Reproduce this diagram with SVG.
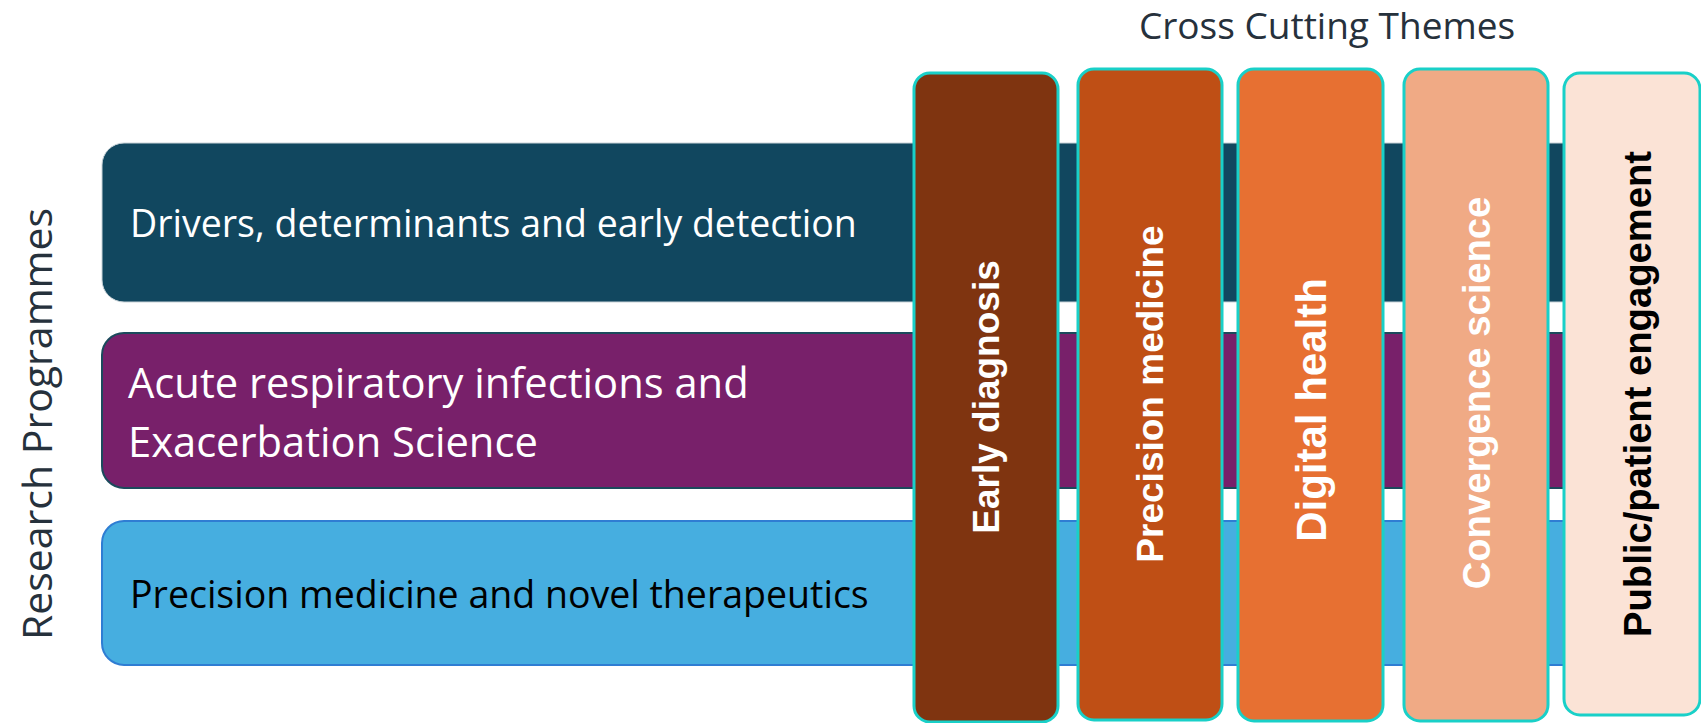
<svg xmlns="http://www.w3.org/2000/svg" width="1701" height="723" viewBox="0 0 1701 723">
<style>
.prog{font-family:"Open Sans","Noto Sans","Liberation Sans",sans-serif;font-size:37.5px}
.theme{stroke:#19d0c8;stroke-width:3}
.tt{font-family:"Liberation Sans",Arial,sans-serif;font-weight:bold;font-size:37px;text-anchor:middle}
.hdr{font-family:"Open Sans","Noto Sans","Liberation Sans",sans-serif;fill:#26313c}
</style>
<rect width="1701" height="723" fill="#ffffff"/>
<g id="label-cross-cutting"><text class="hdr" x="1327" y="39" font-size="37" text-anchor="middle">Cross Cutting Themes</text></g>
<g id="label-research"><text class="hdr" transform="translate(52,424) rotate(-90)" font-size="41" text-anchor="middle" fill="#222">Research Programmes</text></g>
<g id="prog-drivers">
<rect x="102" y="143" width="1540" height="159" rx="22" fill="#11475f" stroke="#c9d3d8" stroke-width="1"/>
<text class="prog" x="130" y="237" fill="#ffffff">Drivers, determinants and early detection</text>
</g>
<g id="prog-acute">
<rect x="102" y="333" width="1540" height="155" rx="22" fill="#78206a" stroke="#1b4a5c" stroke-width="2"/>
<text class="prog" x="128" y="398" fill="#ffffff" style="font-size:41.7px">Acute respiratory infections and</text>
<text class="prog" x="128" y="457" fill="#ffffff" style="font-size:41.7px">Exacerbation Science</text>
</g>
<g id="prog-precision">
<rect x="102" y="521" width="1540" height="144" rx="22" fill="#46aee0" stroke="#2f7dd3" stroke-width="2"/>
<text class="prog" x="130" y="608" fill="#000000">Precision medicine and novel therapeutics</text>
</g>
<g id="theme-early">
<rect class="theme" x="914" y="73" width="144" height="649" rx="16" fill="#7f3410"/>
<text class="tt" transform="translate(999,397) rotate(-90)" fill="#ffffff">Early diagnosis</text>
</g>
<g id="theme-precision">
<rect class="theme" x="1078" y="69" width="144" height="651" rx="16" fill="#bf4f15"/>
<text class="tt" transform="translate(1163,394) rotate(-90)" fill="#ffffff">Precision medicine</text>
</g>
<g id="theme-digital">
<rect class="theme" x="1238" y="69" width="145" height="652" rx="16" fill="#e77032"/>
<text class="tt" transform="translate(1326,410) rotate(-90)" fill="#ffffff" style="font-size:42px">Digital health</text>
</g>
<g id="theme-convergence">
<rect class="theme" x="1404" y="69" width="144" height="652" rx="16" fill="#f0aa85"/>
<text class="tt" transform="translate(1490,393) rotate(-90)" fill="#ffffff" style="font-size:38.2px">Convergence science</text>
</g>
<g id="theme-public">
<rect class="theme" x="1564" y="73" width="136" height="642" rx="16" fill="#fbe3d6"/>
<text class="tt" transform="translate(1651,394) rotate(-90)" fill="#000000" style="font-size:38.2px">Public/patient engagement</text>
</g>
</svg>
